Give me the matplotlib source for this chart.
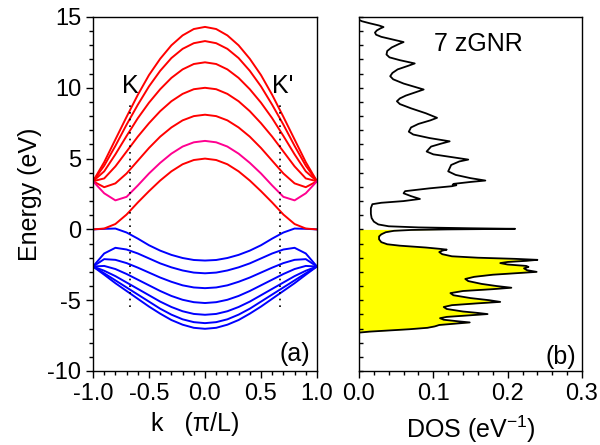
import numpy as np
import matplotlib
matplotlib.use('Agg')
import matplotlib.pyplot as plt
from matplotlib.ticker import MultipleLocator

plt.rcParams['font.family'] = ['Liberation Sans', 'DejaVu Sans']
plt.rcParams['mathtext.fontset'] = 'custom'
plt.rcParams['mathtext.rm'] = 'Liberation Sans'
plt.rcParams['axes.unicode_minus'] = False

# wave vector, units of pi/L
k = [-1.0, -0.9, -0.8, -0.7, -0.6, -0.5, -0.4, -0.3, -0.2, -0.1, 0.0,
     0.1, 0.2, 0.3, 0.4, 0.5, 0.6, 0.7, 0.8, 0.9, 1.0]

# conduction bands (eV)
c1 = [3.4, 4.75, 6.35, 7.95, 9.5, 10.9, 12.05, 13.0, 13.7, 14.15, 14.3,
      14.15, 13.7, 13.0, 12.05, 10.9, 9.5, 7.95, 6.35, 4.75, 3.4]
c2 = [3.4, 4.5, 5.9, 7.4, 8.8, 10.1, 11.2, 12.1, 12.75, 13.15, 13.3,
      13.15, 12.75, 12.1, 11.2, 10.1, 8.8, 7.4, 5.9, 4.5, 3.4]
c3 = [3.4, 4.1, 5.3, 6.6, 7.85, 8.95, 9.9, 10.7, 11.3, 11.68, 11.8,
      11.68, 11.3, 10.7, 9.9, 8.95, 7.85, 6.6, 5.3, 4.1, 3.4]
c4 = [3.4, 3.6, 4.45, 5.5, 6.55, 7.5, 8.35, 9.05, 9.57, 9.9, 10.0,
      9.9, 9.57, 9.05, 8.35, 7.5, 6.55, 5.5, 4.45, 3.6, 3.4]
c5 = [3.4, 2.98, 3.25, 3.95, 4.85, 5.75, 6.55, 7.2, 7.7, 8.0, 8.1,
      8.0, 7.7, 7.2, 6.55, 5.75, 4.85, 3.95, 3.25, 2.98, 3.4]
c6 = [3.4, 2.55, 2.05, 2.3, 3.1, 3.95, 4.7, 5.35, 5.85, 6.15, 6.25,
      6.15, 5.85, 5.35, 4.7, 3.95, 3.1, 2.3, 2.05, 2.55, 3.4]
c7 = [0.0, 0.06, 0.38, 1.05, 1.9, 2.7, 3.45, 4.1, 4.6, 4.9, 5.0,
      4.9, 4.6, 4.1, 3.45, 2.7, 1.9, 1.05, 0.38, 0.06, 0.0]

# valence bands (eV)
v1 = [0.0, 0.04, 0.06, -0.22, -0.65, -1.12, -1.5, -1.8, -2.02, -2.16, -2.2,
      -2.16, -2.02, -1.8, -1.5, -1.12, -0.65, -0.22, 0.06, 0.04, 0.0]
v2 = [-2.62, -1.7, -1.3, -1.42, -1.7, -2.05, -2.4, -2.68, -2.9, -3.05, -3.1,
      -3.05, -2.9, -2.68, -2.4, -2.05, -1.7, -1.42, -1.3, -1.7, -2.62]
v3 = [-2.62, -2.1, -2.15, -2.38, -2.7, -3.05, -3.4, -3.7, -3.95, -4.1, -4.15,
      -4.1, -3.95, -3.7, -3.4, -3.05, -2.7, -2.38, -2.15, -2.1, -2.62]
v4 = [-2.62, -2.58, -2.8, -3.15, -3.55, -3.95, -4.35, -4.7, -4.97, -5.14, -5.2,
      -5.14, -4.97, -4.7, -4.35, -3.95, -3.55, -3.15, -2.8, -2.58, -2.62]
v5 = [-2.62, -2.92, -3.3, -3.75, -4.2, -4.65, -5.1, -5.48, -5.78, -5.97, -6.03,
      -5.97, -5.78, -5.48, -5.1, -4.65, -4.2, -3.75, -3.3, -2.92, -2.62]
v6 = [-2.62, -3.1, -3.6, -4.1, -4.6, -5.1, -5.6, -6.02, -6.35, -6.55, -6.62,
      -6.55, -6.35, -6.02, -5.6, -5.1, -4.6, -4.1, -3.6, -3.1, -2.62]
v7 = [-2.62, -3.2, -3.8, -4.35, -4.9, -5.45, -5.95, -6.4, -6.73, -6.95, -7.02,
      -6.95, -6.73, -6.4, -5.95, -5.45, -4.9, -4.35, -3.8, -3.2, -2.62]

# K, K' points and the extent of their marker lines
k_points = [-2/3, 2/3]
k_line_e = [-5.45, 9.0]

# density of states, read top to bottom: energy (eV) and DOS (1/eV)
dos_e = [14.8, 14.7, 14.55, 14.4, 14.29, 14.2, 14.05, 13.9, 13.75, 13.6,
         13.4, 13.23, 13.1, 12.85, 12.6, 12.35, 12.15, 11.95, 11.72, 11.55,
         11.3, 11.05, 10.82, 10.6, 10.3, 10.05, 9.88, 9.7, 9.45, 9.25,
         9.05, 8.85, 8.55, 8.2, 7.88, 7.7, 7.45, 7.2, 6.9, 6.7,
         6.45, 6.22, 6.05, 5.85, 5.5, 5.3, 5.1, 4.93, 4.8, 4.55,
         4.1, 3.85, 3.62, 3.45, 3.35, 3.22, 3.16, 3.12, 3.05, 2.9,
         2.7, 2.55, 2.35, 2.15, 2.0, 1.88, 1.78, 1.5, 1.1, 0.8,
         0.55, 0.35, 0.22, 0.14, 0.08, 0.04, 0.0, -0.04, -0.1, -0.2,
         -0.35, -0.5, -0.7, -0.9, -1.05, -1.15, -1.28, -1.38, -1.43, -1.5,
         -1.6, -1.75, -1.9, -2.0, -2.08, -2.15, -2.22, -2.3, -2.38, -2.48,
         -2.58, -2.65, -2.75, -2.88, -3.0, -3.08, -3.2, -3.35, -3.5, -3.65,
         -3.85, -4.0, -4.12, -4.22, -4.35, -4.5, -4.65, -4.85, -5.0, -5.12,
         -5.22, -5.35, -5.48, -5.62, -5.8, -5.9, -5.98, -6.08, -6.18, -6.27,
         -6.38, -6.5, -6.57, -6.65, -6.75, -6.85, -6.95, -7.05, -7.15, -7.22,
         -7.28]
dos = [0.0, 0.004, 0.015, 0.027, 0.033, 0.029, 0.024, 0.0215, 0.023, 0.03,
       0.046, 0.06, 0.054, 0.044, 0.038, 0.037, 0.041, 0.055, 0.075, 0.066,
       0.052, 0.045, 0.042, 0.046, 0.06, 0.076, 0.087, 0.077, 0.063, 0.055,
       0.051, 0.055, 0.07, 0.09, 0.105, 0.096, 0.08, 0.07, 0.067, 0.073,
       0.095, 0.122, 0.11, 0.097, 0.091, 0.1, 0.125, 0.147, 0.135, 0.124,
       0.12, 0.13, 0.15, 0.17, 0.15, 0.128, 0.126, 0.131, 0.125, 0.095,
       0.062, 0.06, 0.07, 0.082, 0.06, 0.03, 0.018, 0.016, 0.016, 0.017,
       0.02, 0.026, 0.04, 0.08, 0.15, 0.21, 0.12, 0.07, 0.047, 0.036,
       0.03, 0.027, 0.027, 0.03, 0.038, 0.055, 0.09, 0.11, 0.118, 0.112,
       0.108, 0.112, 0.125, 0.16, 0.21, 0.24, 0.225, 0.2, 0.19, 0.2,
       0.225, 0.228, 0.222, 0.226, 0.239, 0.215, 0.18, 0.155, 0.143, 0.147,
       0.165, 0.185, 0.205, 0.18, 0.14, 0.123, 0.127, 0.15, 0.175, 0.19,
       0.16, 0.125, 0.114, 0.118, 0.14, 0.16, 0.173, 0.145, 0.118, 0.109,
       0.114, 0.135, 0.149, 0.13, 0.108, 0.102, 0.092, 0.068, 0.036, 0.014,
       0.002]

fig = plt.figure(figsize=(6.0, 4.45), dpi=100)
ax1 = fig.add_axes([0.155, 0.1663, 0.3733, 0.7955])
ax2 = fig.add_axes([0.5983, 0.1663, 0.3717, 0.7955])

# (a) band structure
for band in [v1, v2, v3, v4, v5, v6, v7]:
    ax1.plot(k, band, color='#0000ff', lw=1.4)
for band in [c1, c2, c3, c4, c5, c7]:
    ax1.plot(k, band, color='#ff0000', lw=1.4)
ax1.plot(k, c6, color='#ff0090', lw=1.4)
for kp in k_points:
    ax1.plot([kp, kp], k_line_e, color='black', lw=1.2, ls=(0, (1, 3)))
ax1.text(k_points[0], 9.3, 'K', fontsize=18, ha='center', va='bottom')
ax1.text(k_points[1] + 0.03, 9.3, "K'", fontsize=18, ha='center', va='bottom')
ax1.text(0.8, -8.8, '(a)', fontsize=18, ha='center', va='center')

ax1.set_xlim(-1, 1)
ax1.set_ylim(-10, 15)
ax1.xaxis.set_major_locator(MultipleLocator(0.5))
ax1.xaxis.set_minor_locator(MultipleLocator(0.1))
ax1.yaxis.set_major_locator(MultipleLocator(5))
ax1.yaxis.set_minor_locator(MultipleLocator(1))
ax1.xaxis.set_major_formatter(lambda v, p: f'{v:.1f}')
ax1.yaxis.set_major_formatter(lambda v, p: f'{v:.0f}')
ax1.set_xlabel('k   (π/L)', fontsize=18, labelpad=6)
ax1.xaxis.set_label_coords(0.455, -0.115)
ax1.set_ylabel('Energy (eV)', fontsize=18, labelpad=4)

# (b) density of states
dos_e = np.array(dos_e)
dos = np.array(dos)
ax2.fill_betweenx(dos_e, 0, dos, where=dos_e <= 0, color='#ffff00', lw=0)
ax2.plot(dos, dos_e, color='black', lw=1.3)
ax2.text(0.16, 13.1, '7 zGNR', fontsize=18, ha='center', va='center')
ax2.text(0.272, -9.0, '(b)', fontsize=18, ha='center', va='center')

ax2.set_xlim(0, 0.3)
ax2.set_ylim(-10, 15)
ax2.xaxis.set_major_locator(MultipleLocator(0.1))
ax2.xaxis.set_minor_locator(MultipleLocator(0.02))
ax2.xaxis.set_major_formatter(lambda v, p: f'{v:.1f}')
ax2.yaxis.set_major_locator(MultipleLocator(1))
ax2.yaxis.set_minor_locator(MultipleLocator(1))
ax2.set_yticklabels([])
ax2.set_xlabel('DOS (eV$^{\\mathregular{-1}}$)', fontsize=18, labelpad=6)

for ax in (ax1, ax2):
    for s in ax.spines.values():
        s.set_linewidth(1.0)
    ax.tick_params(which='both', top=False, right=False, labelsize=17,
                   width=1.0)
    ax.tick_params(which='major', length=5)
    ax.tick_params(which='minor', length=3)
ax2.tick_params(axis='y', which='both', direction='in', length=3)

fig.savefig('out.png', dpi=100)
